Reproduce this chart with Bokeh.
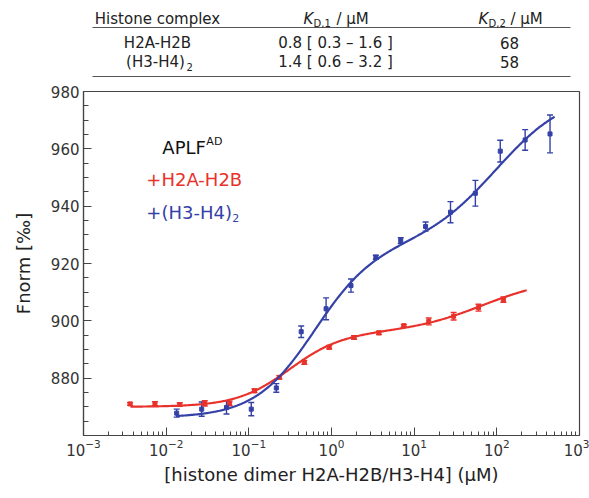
import numpy as np
from bokeh.plotting import figure
from bokeh.models import Range1d, FixedTicker, LogTickFormatter, Whisker, ColumnDataSource, TeeHead
from bokeh.layouts import column
from bokeh.core.properties import value
from bokeh.embed import file_html
from bokeh.resources import INLINE

FONT = "DejaVu Sans"
RED = "#e8322b"
BLUE = "#3441a6"
AXC = "#444444"
TXT = "#222222"

# ---------------- data ----------------
red_conc = [0.00366, 0.00732, 0.0146, 0.0293, 0.0586, 0.117, 0.234, 0.469,
            0.938, 1.875, 3.75, 7.5, 15, 30, 60, 120]
red_fnorm = [871.0, 871.1, 870.8, 871.2, 871.2, 875.6, 880.3, 885.5,
             890.8, 894.2, 895.8, 898.3, 899.8, 901.6, 904.6, 907.4]
red_err = [0.5, 0.7, 0.6, 0.9, 0.8, 0.6, 0.6, 0.7,
           0.6, 0.6, 0.6, 0.4, 1.2, 1.3, 1.2, 0.9]

blue_conc = [0.0134, 0.0269, 0.0537, 0.107, 0.215, 0.43, 0.86, 1.72,
             3.44, 6.88, 13.75, 27.5, 55, 110, 220, 440]
blue_fnorm = [867.8, 869.2, 869.8, 869.2, 876.6, 896.2, 904.2, 912.3,
              922.2, 928.0, 932.9, 937.9, 944.5, 959.2, 963.1, 965.2]
blue_err = [1.4, 2.5, 2.3, 2.3, 1.5, 2.0, 3.8, 2.3,
            0.7, 1.0, 1.6, 3.7, 4.5, 3.8, 3.6, 6.6]

# fitted two-site binding curves (parameters estimated from the drawn fit lines)
red_fit = dict(base=870.0, a1=26.0, k1=0.31, n=1.35, a2=19.0, k2=68.0, span=(0.0037, 230))
blue_fit = dict(base=866.2, a1=60.0, k1=0.62, n=1.2, a2=54.0, k2=100.0, span=(0.0134, 500))

x_major = [1e-3, 1e-2, 1e-1, 1e0, 1e1, 1e2, 1e3]
y_major = [880, 900, 920, 940, 960, 980]

table_cols = ["Histone complex", "K", "K"]
table_col_subs = ["", "D,1", "D,2"]
complex_names = ["H2A-H2B", "(H3-H4)"]
complex_subs = ["", "2"]
kd1_text = ["0.8 [ 0.3 – 1.6 ]", "1.4 [ 0.6 – 3.2 ]"]
kd2_text = ["68", "58"]


def fit_curve(fp, xs):
    xs = np.asarray(xs, float)
    return (fp["base"] + fp["a1"] * xs ** fp["n"] / (xs ** fp["n"] + fp["k1"] ** fp["n"])
            + fp["a2"] * xs / (xs + fp["k2"]))


# ---------------- table figure ----------------
TOP_H = 84
FL, FR = 83, 579   # frame edges (pixels) shared with the chart below
top = figure(width=589, height=TOP_H, x_range=Range1d(FL, FR), y_range=Range1d(TOP_H, 0),
             toolbar_location=None, output_backend="svg",
             min_border_left=FL, min_border_right=589 - FR, min_border_top=0, min_border_bottom=0,
             x_axis_location=None, y_axis_location=None)
top.grid.visible = False
top.outline_line_color = None
top.background_fill_color = "white"
top.border_fill_color = "white"

tkw = dict(text_font=value(FONT), text_color=TXT, text_baseline="middle")
top.segment(x0=[92, 92], y0=[27, 76], x1=[570, 570], y1=[27, 76], line_color="#555555", line_width=1.2)
# header
top.text(x=[157], y=[18], text=[table_cols[0]], text_align="center", text_font_size="15px", **tkw)
top.text(x=[303, 478], y=[18, 18], text=table_cols[1:], text_align="left", text_font_size="15px",
         text_font_style="italic", **tkw)
top.text(x=[313, 488], y=[23, 23], text=table_col_subs[1:], text_align="left", text_font_size="10px", **tkw)
top.text(x=[336, 510], y=[18, 18], text=["/ µM", "/ µM"], text_align="left", text_font_size="15px", **tkw)
# rows
top.text(x=[157, 155], y=[42, 61], text=complex_names, text_align="center", text_font_size="15px", **tkw)
top.text(x=[186, 186], y=[47, 66], text=complex_subs, text_align="left", text_font_size="10px", **tkw)
top.text(x=[335, 335], y=[42, 61], text=kd1_text, text_align="center", text_font_size="15px", **tkw)
top.text(x=[509, 509], y=[42, 61], text=kd2_text, text_align="center", text_font_size="15px", **tkw)

# ---------------- main figure ----------------
p = figure(width=589, height=498 - TOP_H, x_axis_type="log",
           x_range=Range1d(1e-3, 1e3), y_range=Range1d(860, 980),
           toolbar_location=None, output_backend="svg",
           min_border_left=FL, min_border_right=589 - FR, min_border_top=91 - TOP_H, min_border_bottom=63)
p.grid.visible = False
p.background_fill_color = "white"
p.border_fill_color = "white"
p.outline_line_color = AXC
p.outline_line_width = 1.2

x_minor = [k * 10.0 ** d for d in range(-3, 3) for k in range(2, 10)]
p.xaxis.ticker = FixedTicker(ticks=x_major, minor_ticks=x_minor)
p.xaxis.formatter = LogTickFormatter()
p.yaxis.ticker = FixedTicker(ticks=y_major, minor_ticks=list(range(860, 981, 5)))

for ax in (p.xaxis[0], p.yaxis[0]):
    ax.axis_line_color = AXC
    ax.axis_line_width = 1.2
    ax.major_tick_line_color = AXC
    ax.minor_tick_line_color = AXC
    ax.major_tick_out = 0
    ax.minor_tick_out = 0
    ax.major_label_text_font = FONT
    ax.major_label_text_font_size = "15px"
    ax.major_label_text_color = "#333333"
    ax.axis_label_text_font = FONT
    ax.axis_label_text_font_size = "18px"
    ax.axis_label_text_font_style = "normal"
    ax.axis_label_text_color = TXT
p.xaxis.major_tick_in = 8
p.xaxis.minor_tick_in = 4
p.yaxis.major_tick_in = 8
p.yaxis.minor_tick_in = 5
p.xaxis.major_label_standoff = 3
p.yaxis.major_label_standoff = 4
p.xaxis.axis_label = "[histone dimer H2A-H2B/H3-H4] (µM)"
p.yaxis.axis_label = "Fnorm [‰]"
p.xaxis.axis_label_standoff = 5
p.yaxis.axis_label_standoff = 14

for conc, fn, err, fp, col in ((red_conc, red_fnorm, red_err, red_fit, RED),
                               (blue_conc, blue_fnorm, blue_err, blue_fit, BLUE)):
    xs = np.logspace(np.log10(fp["span"][0]), np.log10(fp["span"][1]), 400)
    p.line(xs, fit_curve(fp, xs), line_color=col, line_width=2.2)
    src = ColumnDataSource(dict(x=conc, y=fn,
                                lo=[a - e for a, e in zip(fn, err)],
                                hi=[a + e for a, e in zip(fn, err)]))
    wh = Whisker(base="x", lower="lo", upper="hi", source=src, line_color=col, line_width=1.4,
                 upper_head=TeeHead(size=6, line_color=col, line_width=1.4),
                 lower_head=TeeHead(size=6, line_color=col, line_width=1.4))
    p.add_layout(wh)
    p.scatter("x", "y", source=src, marker="square", size=4, color=col)

# legend-style labels
lkw = dict(text_font=value(FONT), text_baseline="middle", text_align="left")
LX = 0.0053
p.text(x=[LX], y=[960.5], text=["APLF"], x_offset=19, text_font_size="18px", text_color="#111111", **lkw)
p.text(x=[LX], y=[960.5], text=["AD"], x_offset=63, y_offset=-6, text_font_size="11px", text_color="#111111", **lkw)
p.text(x=[LX], y=[949.3], text=["+H2A-H2B"], x_offset=3, text_font_size="18px", text_color=RED, **lkw)
p.text(x=[LX], y=[937.8], text=["+(H3-H4)"], x_offset=3, text_font_size="18px", text_color=BLUE, **lkw)
p.text(x=[LX], y=[937.8], text=["2"], x_offset=89, y_offset=6, text_font_size="11px", text_color=BLUE, **lkw)

layout = column(top, p, spacing=0)
open("out.html", "w").write(file_html(layout, INLINE))
